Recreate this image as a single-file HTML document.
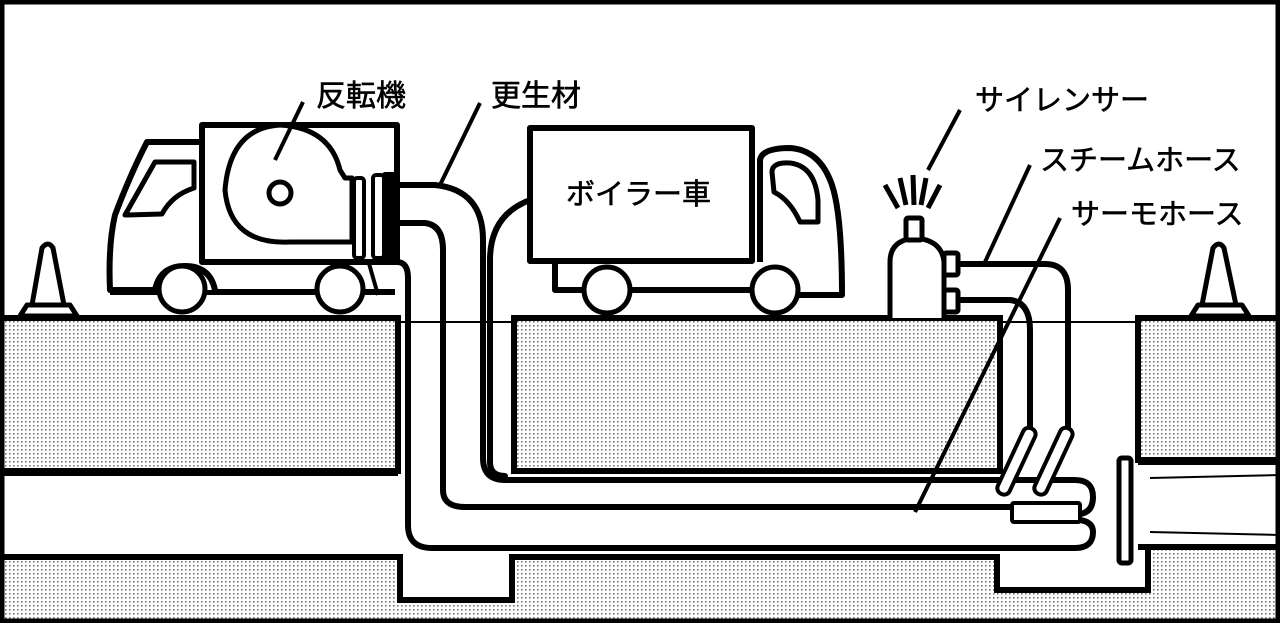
<!DOCTYPE html>
<html><head><meta charset="utf-8"><style>
html,body{margin:0;padding:0;background:#fff;}
svg{display:block}
text{font-family:"Liberation Sans","Noto Sans CJK JP",sans-serif;fill:#000;stroke:#000;stroke-width:0.6px;}
</style></head><body>
<svg width="1280" height="623" viewBox="0 0 1280 623" xmlns="http://www.w3.org/2000/svg">
<defs>
<pattern id="d" width="4" height="4" patternUnits="userSpaceOnUse">
<rect width="4" height="4" fill="#fff"/><rect x="1" y="1" width="1.6" height="1.6" fill="#777"/>
</pattern>
</defs>
<rect width="1280" height="623" fill="#fff"/>
<g stroke="#000" stroke-width="6" fill="url(#d)">
<rect x="0" y="318" width="398" height="153"/>
<rect x="514" y="318" width="486" height="153"/>
<rect x="1138" y="318" width="142" height="142"/>
<path d="M0 557 H400 V600 H512 V557 H997 V590 H1148 V547 H1280 V623 H0 Z"/>
</g>
<line x1="398" y1="322" x2="514" y2="322" stroke="#000" stroke-width="2"/>
<line x1="1000" y1="322" x2="1138" y2="322" stroke="#000" stroke-width="2"/>
<g stroke="#000" stroke-width="6" fill="none">
<line x1="0" y1="473" x2="398" y2="473"/>
<line x1="1138" y1="462" x2="1280" y2="462"/>
<line x1="1138" y1="547" x2="1280" y2="547"/>
</g>
<line x1="1150" y1="478" x2="1280" y2="475" stroke="#000" stroke-width="2"/>
<line x1="1150" y1="532" x2="1280" y2="535" stroke="#000" stroke-width="2"/>
<rect x="1119" y="458" width="12" height="105" rx="3" fill="#fff" stroke="#000" stroke-width="5"/>

<g stroke="#000" stroke-width="6" fill="none" stroke-linecap="round" stroke-linejoin="round">
<path d="M397 185 H435 Q483 190 483 240 V458 Q483 480 505 480 H1075 Q1093 480 1093 497 Q1093 512 1080 514"/>
<path d="M397 223 H425 Q443 225 443 250 V490 Q443 507 465 507 H1010"/>
<path d="M397 262 Q408 262 408 278 V525 Q408 548 432 548 H1075 Q1093 548 1093 532 Q1093 522 1080 520"/>
<path d="M530 200 Q490 215 490 260 V462 Q490 476 505 476"/>
<path d="M958 264 H1045 Q1068 264 1068 290 V435"/>
<path d="M958 300 H1010 Q1030 302 1030 330 V435"/>
</g>
<g stroke="#000" stroke-width="4" fill="#fff">
<rect x="1012" y="503" width="68" height="19" rx="2"/>
<rect x="1010" y="425" width="13" height="72" rx="6" transform="rotate(25 1016 461)"/>
<rect x="1047" y="425" width="13" height="72" rx="6" transform="rotate(25 1053 461)"/>
</g>

<g stroke="#000" stroke-width="6" fill="#fff" stroke-linejoin="round">
<path d="M202 142 H147 Q130 175 115 215 Q108 245 110 290 H202"/>
<path d="M125 215 L155 162 H194 V188 Q172 195 162 214 Z" stroke-width="5"/>
<line x1="110" y1="292" x2="395" y2="292"/>
<path d="M155 290 Q160 266 185 266 Q210 266 215 290" />
<rect x="202" y="125" width="195" height="137"/>
<path d="M340 242 H290 Q230 245 225 190 Q230 128 280 125 Q330 128 340 170 L345 178 H352 V242 Z" stroke-width="5"/>
<circle cx="280" cy="193" r="11" stroke-width="5"/>
<rect x="354" y="178" width="10" height="80" rx="3" stroke-width="4"/>
<rect x="373" y="175" width="11" height="83" rx="3" stroke-width="4"/>
<rect x="385" y="175" width="10" height="83" fill="#000"/>
<circle cx="182" cy="289" r="23" stroke-width="5"/>
<circle cx="340" cy="289" r="23" stroke-width="5"/>
<path d="M368 260 L378 295" stroke-width="4"/>
</g>
<g stroke="#000" stroke-width="5" fill="#fff" stroke-linejoin="round">
<path d="M42 248 Q48 240 53 248 L64 305 H32 Z"/>
<path d="M20 316 L27 305 H70 L77 316 Z"/>
<path d="M1213 248 Q1219 240 1224 248 L1236 305 H1202 Z"/>
<path d="M1191 316 L1198 305 H1242 L1249 316 Z"/>
</g>

<g stroke="#000" stroke-width="6" fill="#fff" stroke-linejoin="round">
<path d="M760 262 V160 Q762 148 790 148 Q820 150 832 185 Q842 215 842 295 H760"/>
<path d="M772 172 Q772 162 790 163 Q815 166 818 200 V222 H800 Q790 200 774 192 Z" stroke-width="5"/>
<path d="M555 260 V290 H800"/>
<circle cx="607" cy="290" r="23" stroke-width="5"/>
<circle cx="775" cy="290" r="23" stroke-width="5"/>
<rect x="530" y="128" width="222" height="133"/>
</g>
<text x="566" y="204" font-size="29">ボイラー車</text>

<g stroke="#000" stroke-width="5" fill="#fff" stroke-linejoin="round">
<path d="M890 318 V262 Q890 240 915 238 Q942 240 944 262 V318"/>
<rect x="906" y="218" width="16" height="22" rx="2"/>
<rect x="944" y="253" width="14" height="22" rx="2"/>
<rect x="944" y="290" width="14" height="22" rx="2"/>
<path d="M885 185 L898 208 M900 178 L906 205 M913 175 L914 205 M926 178 L921 205 M940 185 L928 208" fill="none"/>
</g>

<g stroke="#000" stroke-width="4">
<line x1="303" y1="102" x2="275" y2="160"/>
<line x1="480" y1="103" x2="440" y2="185"/>
<line x1="960" y1="110" x2="928" y2="170"/>
<line x1="1030" y1="165" x2="985" y2="262"/>
<line x1="1060" y1="218" x2="915" y2="512"/>
</g>
<text x="316" y="106" font-size="30">反転機</text>
<text x="491" y="106" font-size="30">更生材</text>
<text x="975" y="110" font-size="29">サイレンサー</text>
<text x="1040" y="170" font-size="29">スチームホース</text>
<text x="1071" y="224" font-size="29">サーモホース</text>

<rect x="2" y="2" width="1276" height="619" fill="none" stroke="#000" stroke-width="5"/>
</svg>
</body></html>
